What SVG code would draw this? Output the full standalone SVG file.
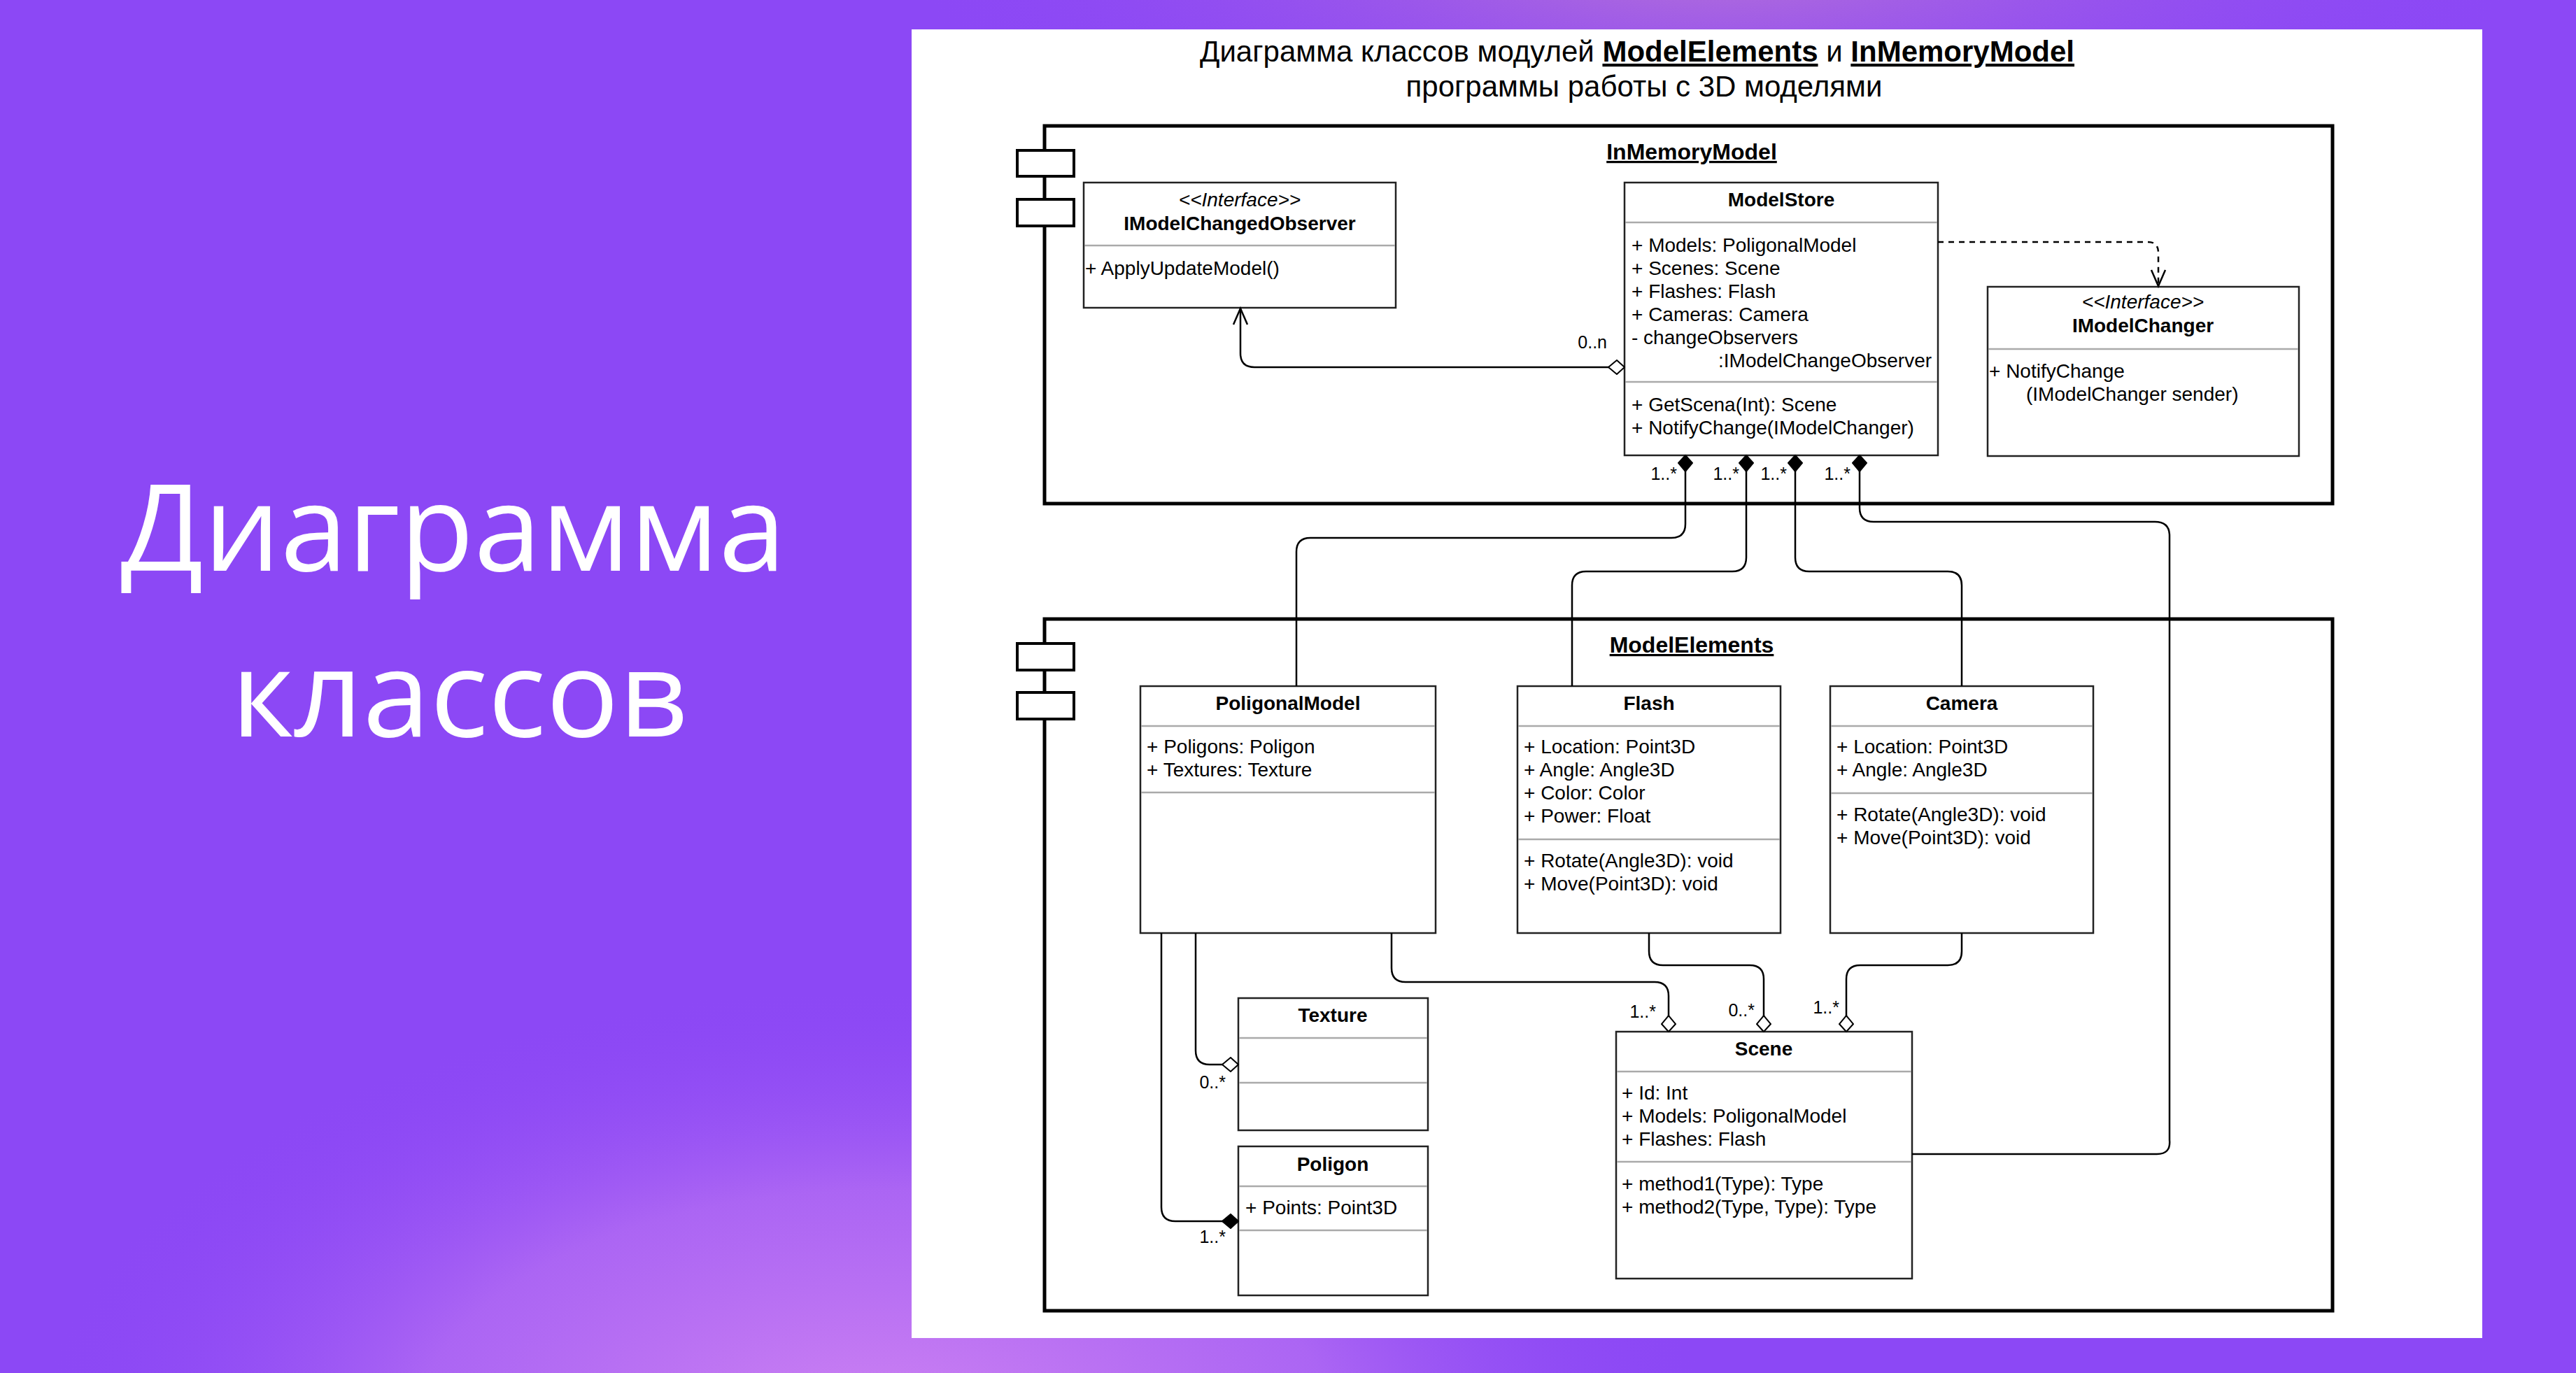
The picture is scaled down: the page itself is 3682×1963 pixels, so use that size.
<svg xmlns="http://www.w3.org/2000/svg" width="3682" height="1963" viewBox="0 0 3682 1963">
<defs>
<radialGradient id="glowB" cx="1250" cy="2060" r="1000" gradientUnits="userSpaceOnUse" gradientTransform="translate(1250 2060) scale(1.2 0.65) translate(-1250 -2060)">
<stop offset="0" stop-color="#D084F2"/>
<stop offset="0.55" stop-color="#B66FF3" stop-opacity="0.75"/>
<stop offset="1" stop-color="#8C48F5" stop-opacity="0"/>
</radialGradient>
<radialGradient id="glowT" cx="2450" cy="-60" r="900" gradientUnits="userSpaceOnUse" gradientTransform="translate(2450 -60) scale(1.3 0.35) translate(-2450 60)">
<stop offset="0" stop-color="#B874D6"/>
<stop offset="1" stop-color="#8C48F5" stop-opacity="0"/>
</radialGradient>
<marker id="dFill" markerUnits="userSpaceOnUse" markerWidth="26" markerHeight="22" viewBox="0 0 26 22" refX="1" refY="11" orient="auto">
<path d="M1,11 L12,1 L24,11 L12,21 Z" fill="#000" stroke="#000" stroke-width="2"/>
</marker>
<marker id="dOpen" markerUnits="userSpaceOnUse" markerWidth="26" markerHeight="22" viewBox="0 0 26 22" refX="1" refY="11" orient="auto">
<path d="M1,11 L12,1 L24,11 L12,21 Z" fill="#fff" stroke="#000" stroke-width="2"/>
</marker>
<marker id="arrOpen" markerUnits="userSpaceOnUse" markerWidth="28" markerHeight="26" viewBox="0 0 28 26" refX="25" refY="13" orient="auto">
<path d="M2,3 L25,13 L2,23" fill="none" stroke="#000" stroke-width="2.5"/>
</marker>
</defs>
<style>
.cls{fill:#fff;stroke:#222;stroke-width:2.5}
.div{stroke:#aaa;stroke-width:2.5}
.frame{fill:none;stroke:#000;stroke-width:5}
.comp{fill:#fff;stroke:#000;stroke-width:4}
.t{font-family:"Liberation Sans",Arial,sans-serif;font-size:28px;fill:#000}
.b{font-weight:bold;text-anchor:middle}
.i{font-style:italic;text-anchor:middle}
.pk{font-family:"Liberation Sans",Arial,sans-serif;font-size:32px;font-weight:bold;text-decoration:underline;text-anchor:middle;fill:#000}
.lbl{font-family:"Liberation Sans",Arial,sans-serif;font-size:25px;fill:#000}
.r{text-anchor:end}
.ln{fill:none;stroke:#000;stroke-width:2.5}
.hero{font-family:"Open Sans","DejaVu Sans",sans-serif;font-size:173px;fill:#fff;text-anchor:middle}
.ttl{font-family:"Liberation Sans",Arial,sans-serif;font-size:42px;fill:#000;text-anchor:middle}
</style>
<rect x="0" y="0" width="3682" height="1963" fill="#8C48F5"/>
<rect x="0" y="0" width="3682" height="1963" fill="url(#glowB)"/>
<rect x="0" y="0" width="3682" height="1963" fill="url(#glowT)"/>
<text class="hero" x="648" y="816">Диаграмма</text>
<text class="hero" x="657" y="1053">классов</text>
<rect x="1303" y="42" width="2245" height="1871" fill="#fff"/>
<text class="ttl" x="2340" y="88">Диаграмма классов модулей <tspan font-weight="bold" text-decoration="underline">ModelElements</tspan> и <tspan font-weight="bold" text-decoration="underline">InMemoryModel</tspan></text>
<text class="ttl" x="2350" y="138">программы работы с 3D моделями</text>

<g id="pkg-InMemoryModel">
<rect class="frame" x="1493" y="180" width="1841" height="540"/>
<rect class="comp" x="1454" y="215" width="81" height="37"/>
<rect class="comp" x="1454" y="285" width="81" height="38"/>
<text class="pk" x="2418" y="228">InMemoryModel</text>
</g>
<g id="pkg-ModelElements">
<rect class="frame" x="1493" y="885" width="1841" height="989"/>
<rect class="comp" x="1454" y="920" width="81" height="38"/>
<rect class="comp" x="1454" y="990" width="81" height="38"/>
<text class="pk" x="2418" y="933">ModelElements</text>
</g>

<g id="IModelChangedObserver">
<rect class="cls" x="1549" y="261" width="446" height="179"/>
<line class="div" x1="1550" y1="351" x2="1994" y2="351"/>
<text class="t i" x="1772" y="295">&lt;&lt;Interface&gt;&gt;</text>
<text class="t b" x="1772" y="329">IModelChangedObserver</text>
<text class="t" x="1551" y="393">+ ApplyUpdateModel()</text>
</g>

<g id="ModelStore">
<rect class="cls" x="2322" y="261" width="448" height="390"/>
<line class="div" x1="2323" y1="318" x2="2769" y2="318"/>
<line class="div" x1="2323" y1="546" x2="2769" y2="546"/>
<text class="t b" x="2546" y="295">ModelStore</text>
<text class="t" x="2332" y="360">+ Models: PoligonalModel</text>
<text class="t" x="2332" y="393">+ Scenes: Scene</text>
<text class="t" x="2332" y="426">+ Flashes: Flash</text>
<text class="t" x="2332" y="459">+ Cameras: Camera</text>
<text class="t" x="2332" y="492">- changeObservers</text>
<text class="t" x="2456" y="525">:IModelChangeObserver</text>
<text class="t" x="2332" y="588">+ GetScena(Int): Scene</text>
<text class="t" x="2332" y="621">+ NotifyChange(IModelChanger)</text>
</g>

<g id="IModelChanger">
<rect class="cls" x="2841" y="410" width="445" height="242"/>
<line class="div" x1="2842" y1="499" x2="3285" y2="499"/>
<text class="t i" x="3063" y="441">&lt;&lt;Interface&gt;&gt;</text>
<text class="t b" x="3063" y="475">IModelChanger</text>
<text class="t" x="2843" y="540">+ NotifyChange</text>
<text class="t" x="2896" y="573">(IModelChanger sender)</text>
</g>

<g id="PoligonalModel">
<rect class="cls" x="1630" y="981" width="422" height="353"/>
<line class="div" x1="1631" y1="1038" x2="2051" y2="1038"/>
<line class="div" x1="1631" y1="1133" x2="2051" y2="1133"/>
<text class="t b" x="1841" y="1015">PoligonalModel</text>
<text class="t" x="1639" y="1077">+ Poligons: Poligon</text>
<text class="t" x="1639" y="1110">+ Textures: Texture</text>
</g>

<g id="Flash">
<rect class="cls" x="2169" y="981" width="376" height="353"/>
<line class="div" x1="2170" y1="1038" x2="2544" y2="1038"/>
<line class="div" x1="2170" y1="1200" x2="2544" y2="1200"/>
<text class="t b" x="2357" y="1015">Flash</text>
<text class="t" x="2178" y="1077">+ Location: Point3D</text>
<text class="t" x="2178" y="1110">+ Angle: Angle3D</text>
<text class="t" x="2178" y="1143">+ Color: Color</text>
<text class="t" x="2178" y="1176">+ Power: Float</text>
<text class="t" x="2178" y="1240">+ Rotate(Angle3D): void</text>
<text class="t" x="2178" y="1273">+ Move(Point3D): void</text>
</g>

<g id="Camera">
<rect class="cls" x="2616" y="981" width="376" height="353"/>
<line class="div" x1="2617" y1="1038" x2="2991" y2="1038"/>
<line class="div" x1="2617" y1="1134" x2="2991" y2="1134"/>
<text class="t b" x="2804" y="1015">Camera</text>
<text class="t" x="2625" y="1077">+ Location: Point3D</text>
<text class="t" x="2625" y="1110">+ Angle: Angle3D</text>
<text class="t" x="2625" y="1174">+ Rotate(Angle3D): void</text>
<text class="t" x="2625" y="1207">+ Move(Point3D): void</text>
</g>

<g id="Texture">
<rect class="cls" x="1770" y="1427" width="271" height="189"/>
<line class="div" x1="1771" y1="1484" x2="2040" y2="1484"/>
<line class="div" x1="1771" y1="1548" x2="2040" y2="1548"/>
<text class="t b" x="1905" y="1461">Texture</text>
</g>

<g id="Poligon">
<rect class="cls" x="1770" y="1639" width="271" height="213"/>
<line class="div" x1="1771" y1="1696" x2="2040" y2="1696"/>
<line class="div" x1="1771" y1="1759" x2="2040" y2="1759"/>
<text class="t b" x="1905" y="1674">Poligon</text>
<text class="t" x="1780" y="1736">+ Points: Point3D</text>
</g>

<g id="Scene">
<rect class="cls" x="2310" y="1475" width="423" height="353"/>
<line class="div" x1="2311" y1="1532" x2="2732" y2="1532"/>
<line class="div" x1="2311" y1="1661" x2="2732" y2="1661"/>
<text class="t b" x="2521" y="1509">Scene</text>
<text class="t" x="2318" y="1572">+ Id: Int</text>
<text class="t" x="2318" y="1605">+ Models: PoligonalModel</text>
<text class="t" x="2318" y="1638">+ Flashes: Flash</text>
<text class="t" x="2318" y="1702">+ method1(Type): Type</text>
<text class="t" x="2318" y="1735">+ method2(Type, Type): Type</text>
</g>

<g id="connectors">
<path class="ln" d="M2322,525 H1793 Q1773,525 1773,505 V441" marker-start="url(#dOpen)" marker-end="url(#arrOpen)"/>
<path class="ln" d="M2770,346 H3070 Q3085,346 3085,361 V409" stroke-dasharray="8 7" marker-end="url(#arrOpen)"/>
<path class="ln" d="M2409,651 V749 Q2409,769 2389,769 H1873 Q1853,769 1853,789 V981" marker-start="url(#dFill)"/>
<path class="ln" d="M2496,651 V797 Q2496,817 2476,817 H2267 Q2247,817 2247,837 V981" marker-start="url(#dFill)"/>
<path class="ln" d="M2566,651 V797 Q2566,817 2586,817 H2784 Q2804,817 2804,837 V981" marker-start="url(#dFill)"/>
<path class="ln" d="M2658,651 V726 Q2658,746 2678,746 H3080 Q3101,746 3101,766 V1630 Q3103,1650 3083,1650 H2733" marker-start="url(#dFill)"/>
<path class="ln" d="M2385,1475 V1424 Q2385,1404 2365,1404 H2009 Q1989,1404 1989,1384 V1334" marker-start="url(#dOpen)"/>
<path class="ln" d="M2521,1475 V1400 Q2521,1380 2501,1380 H2377 Q2357,1380 2357,1360 V1334" marker-start="url(#dOpen)"/>
<path class="ln" d="M2639,1475 V1400 Q2639,1380 2659,1380 H2784 Q2804,1380 2804,1360 V1334" marker-start="url(#dOpen)"/>
<path class="ln" d="M1770,1522 H1729 Q1709,1522 1709,1502 V1334" marker-start="url(#dOpen)"/>
<path class="ln" d="M1770,1746 H1680 Q1660,1746 1660,1726 V1334" marker-start="url(#dFill)"/>
<text class="lbl r" x="2297" y="498">0..n</text>
<text class="lbl r" x="2397" y="686">1..*</text>
<text class="lbl r" x="2486" y="686">1..*</text>
<text class="lbl r" x="2554" y="686">1..*</text>
<text class="lbl r" x="2645" y="686">1..*</text>
<text class="lbl r" x="2367" y="1455">1..*</text>
<text class="lbl r" x="2508" y="1453">0..*</text>
<text class="lbl r" x="2629" y="1449">1..*</text>
<text class="lbl r" x="1752" y="1556">0..*</text>
<text class="lbl r" x="1752" y="1777">1..*</text>
</g>
</svg>
